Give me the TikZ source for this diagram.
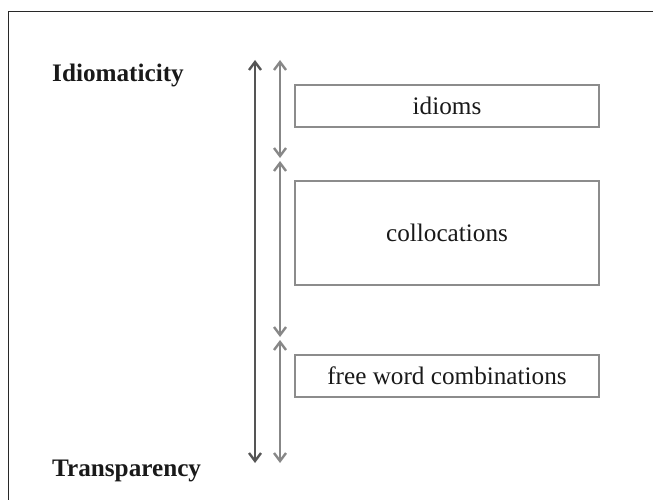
\documentclass[tikz,border=0pt]{standalone}
\usepackage{fontspec}
\setmainfont{Liberation Serif}
\usetikzlibrary{arrows.meta}
\definecolor{framec}{RGB}{40,40,40}
\definecolor{darkarr}{RGB}{85,85,85}
\definecolor{lightarr}{RGB}{135,135,135}
\definecolor{boxc}{RGB}{140,140,140}
\definecolor{textc}{RGB}{25,25,25}
\begin{document}
\begin{tikzpicture}[x=1pt,y=-1pt,
  txt/.style={font=\fontsize{25.2}{30}\selectfont, text=textc, inner sep=0pt},
  lbl/.style={txt, font=\fontsize{25.2}{30}\selectfont\bfseries, anchor=west},
  catbox/.style={draw=boxc, line width=2pt, txt},
  barb/.style={Straight Barb[length=8pt,width=12pt,line width=2.4pt]},
  twohead/.style={line width=2.2pt, {Straight Barb[length=8pt,width=12pt,line width=2.4pt]}-{Straight Barb[length=8pt,width=12pt,line width=2.4pt]}}
]
\useasboundingbox (0,0) rectangle (653,500);
% outer frame (top and left edges)
\draw[framec, line width=1.8pt] (8.5,500) -- (8.5,11.5) -- (653,11.5);

% scale labels
\node[lbl] (idio) at (52,75) {Idiomaticity};
\node[lbl] (trans) at (52,471) {Transparency};

% category boxes
\node[catbox, minimum width=304pt, minimum height=42pt] (idioms) at (447,106) {idioms};
\node[catbox, minimum width=304pt, minimum height=104pt] (colloc) at (447,233) {collocations};
\node[catbox, minimum width=304pt, minimum height=42pt] (free) at (447,376) {free word combinations};

% arrow end points
\coordinate (dtop) at (255,60);
\coordinate (dbot) at (255,463);
\coordinate (l1) at (280,60);
\coordinate (l2) at (280,158);
\coordinate (l3) at (280,161);
\coordinate (l4) at (280,337);
\coordinate (l5) at (280,340);
\coordinate (l6) at (280,463);

\draw[twohead, darkarr] (dtop) -- (dbot);
\draw[twohead, lightarr] (l1) -- (l2);
\draw[twohead, lightarr] (l3) -- (l4);
\draw[twohead, lightarr] (l5) -- (l6);
\end{tikzpicture}
\end{document}
